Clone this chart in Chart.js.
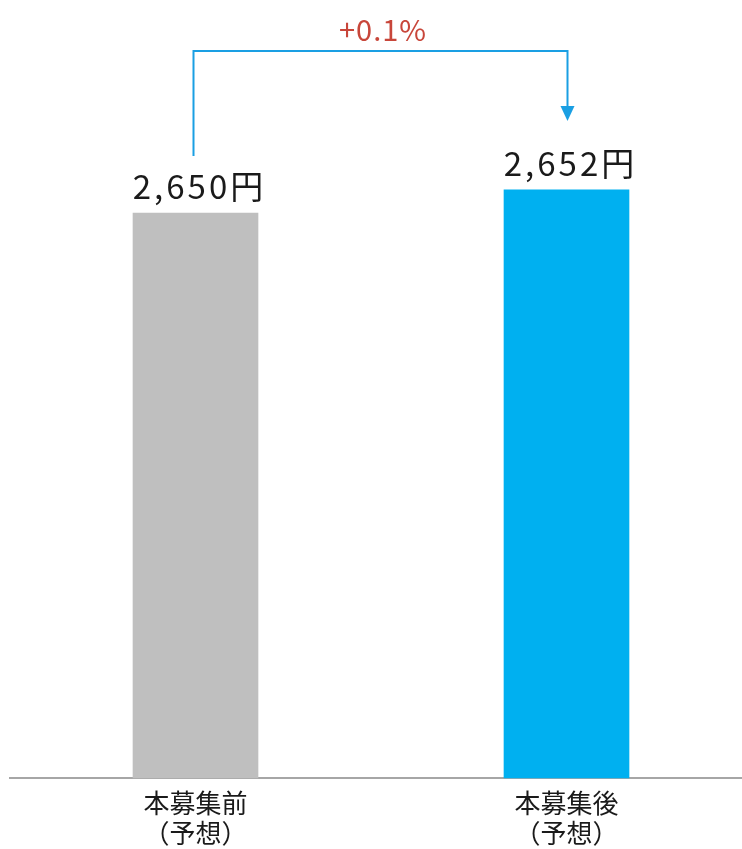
<!DOCTYPE html>
<html>
<head>
<meta charset="utf-8">
<script src="https://cdn.jsdelivr.net/npm/chart.js@4"></script>
<style>
  html, body { margin: 0; padding: 0; background: #fff; overflow: hidden; }
  #wrap { width: 752px; height: 858px; }
</style>
</head>
<body>
<div id="wrap"><canvas id="priceChart"></canvas></div>
<script>
const categories = [['本募集前', '（予想）'], ['本募集後', '（予想）']];
const values = [2650, 2652];
const barColors = ['#bfbfbf', '#00b0f0'];
const unit = '円';

const fontFamily = '"Noto Sans CJK JP", "Noto Sans", sans-serif';

// value labels, bracket and change percentage
const annotate = {
    id: 'annotate',
    afterDatasetsDraw(chart) {
        const ctx = chart.ctx;
        const bars = chart.getDatasetMeta(0).data;
        ctx.save();
        ctx.fillStyle = '#1a1a1a';
        ctx.font = '33px ' + fontFamily;
        ctx.letterSpacing = '3px';
        ctx.textAlign = 'center';
        ctx.textBaseline = 'bottom';
        bars.forEach((bar, i) => {
            ctx.fillText(values[i].toLocaleString('en-US') + unit, bar.x + 4, bar.y - 10);
        });
        ctx.letterSpacing = '0px';

        const a = bars[0], b = bars[1];
        const topY = 51;
        ctx.strokeStyle = '#1a9fe3';
        ctx.lineWidth = 2;
        ctx.beginPath();
        ctx.moveTo(a.x - 2, a.y - 57);
        ctx.lineTo(a.x - 2, topY);
        ctx.lineTo(b.x + 1, topY);
        ctx.lineTo(b.x + 1, b.y - 80);
        ctx.stroke();
        ctx.fillStyle = '#1a9fe3';
        ctx.beginPath();
        ctx.moveTo(b.x - 6, b.y - 84);
        ctx.lineTo(b.x + 8, b.y - 84);
        ctx.lineTo(b.x + 1, b.y - 69);
        ctx.closePath();
        ctx.fill();

        const pct = ((values[1] / values[0] - 1) * 100).toFixed(1);
        ctx.fillStyle = '#c8463a';
        ctx.font = '29px ' + fontFamily;
        ctx.letterSpacing = '1px';
        ctx.textBaseline = 'alphabetic';
        ctx.fillText('+' + pct + '%', (a.x + b.x) / 2 + 2, 41);
        ctx.restore();
    }
};

new Chart('priceChart', {
    type: 'bar',
    data: {
        labels: categories,
        datasets: [{
            data: values,
            backgroundColor: barColors,
            barThickness: 125
        }]
    },
    options: {
        responsive: true,
        maintainAspectRatio: false,
        animation: false,
        layout: { padding: { left: 10, right: 0, top: 0, bottom: 0 } },
        plugins: {
            legend: { display: false },
            tooltip: { enabled: false }
        },
        scales: {
            x: {
                grid: { display: false, drawTicks: false },
                border: { display: true, color: '#a6a6a6', width: 2 },
                ticks: {
                    color: '#1a1a1a',
                    padding: 10,
                    font: { family: fontFamily, size: 26, lineHeight: 1.15 }
                }
            },
            y: {
                display: false,
                min: 2600.9,
                max: 2668.5
            }
        }
    },
    plugins: [annotate]
});
</script>
</body>
</html>
